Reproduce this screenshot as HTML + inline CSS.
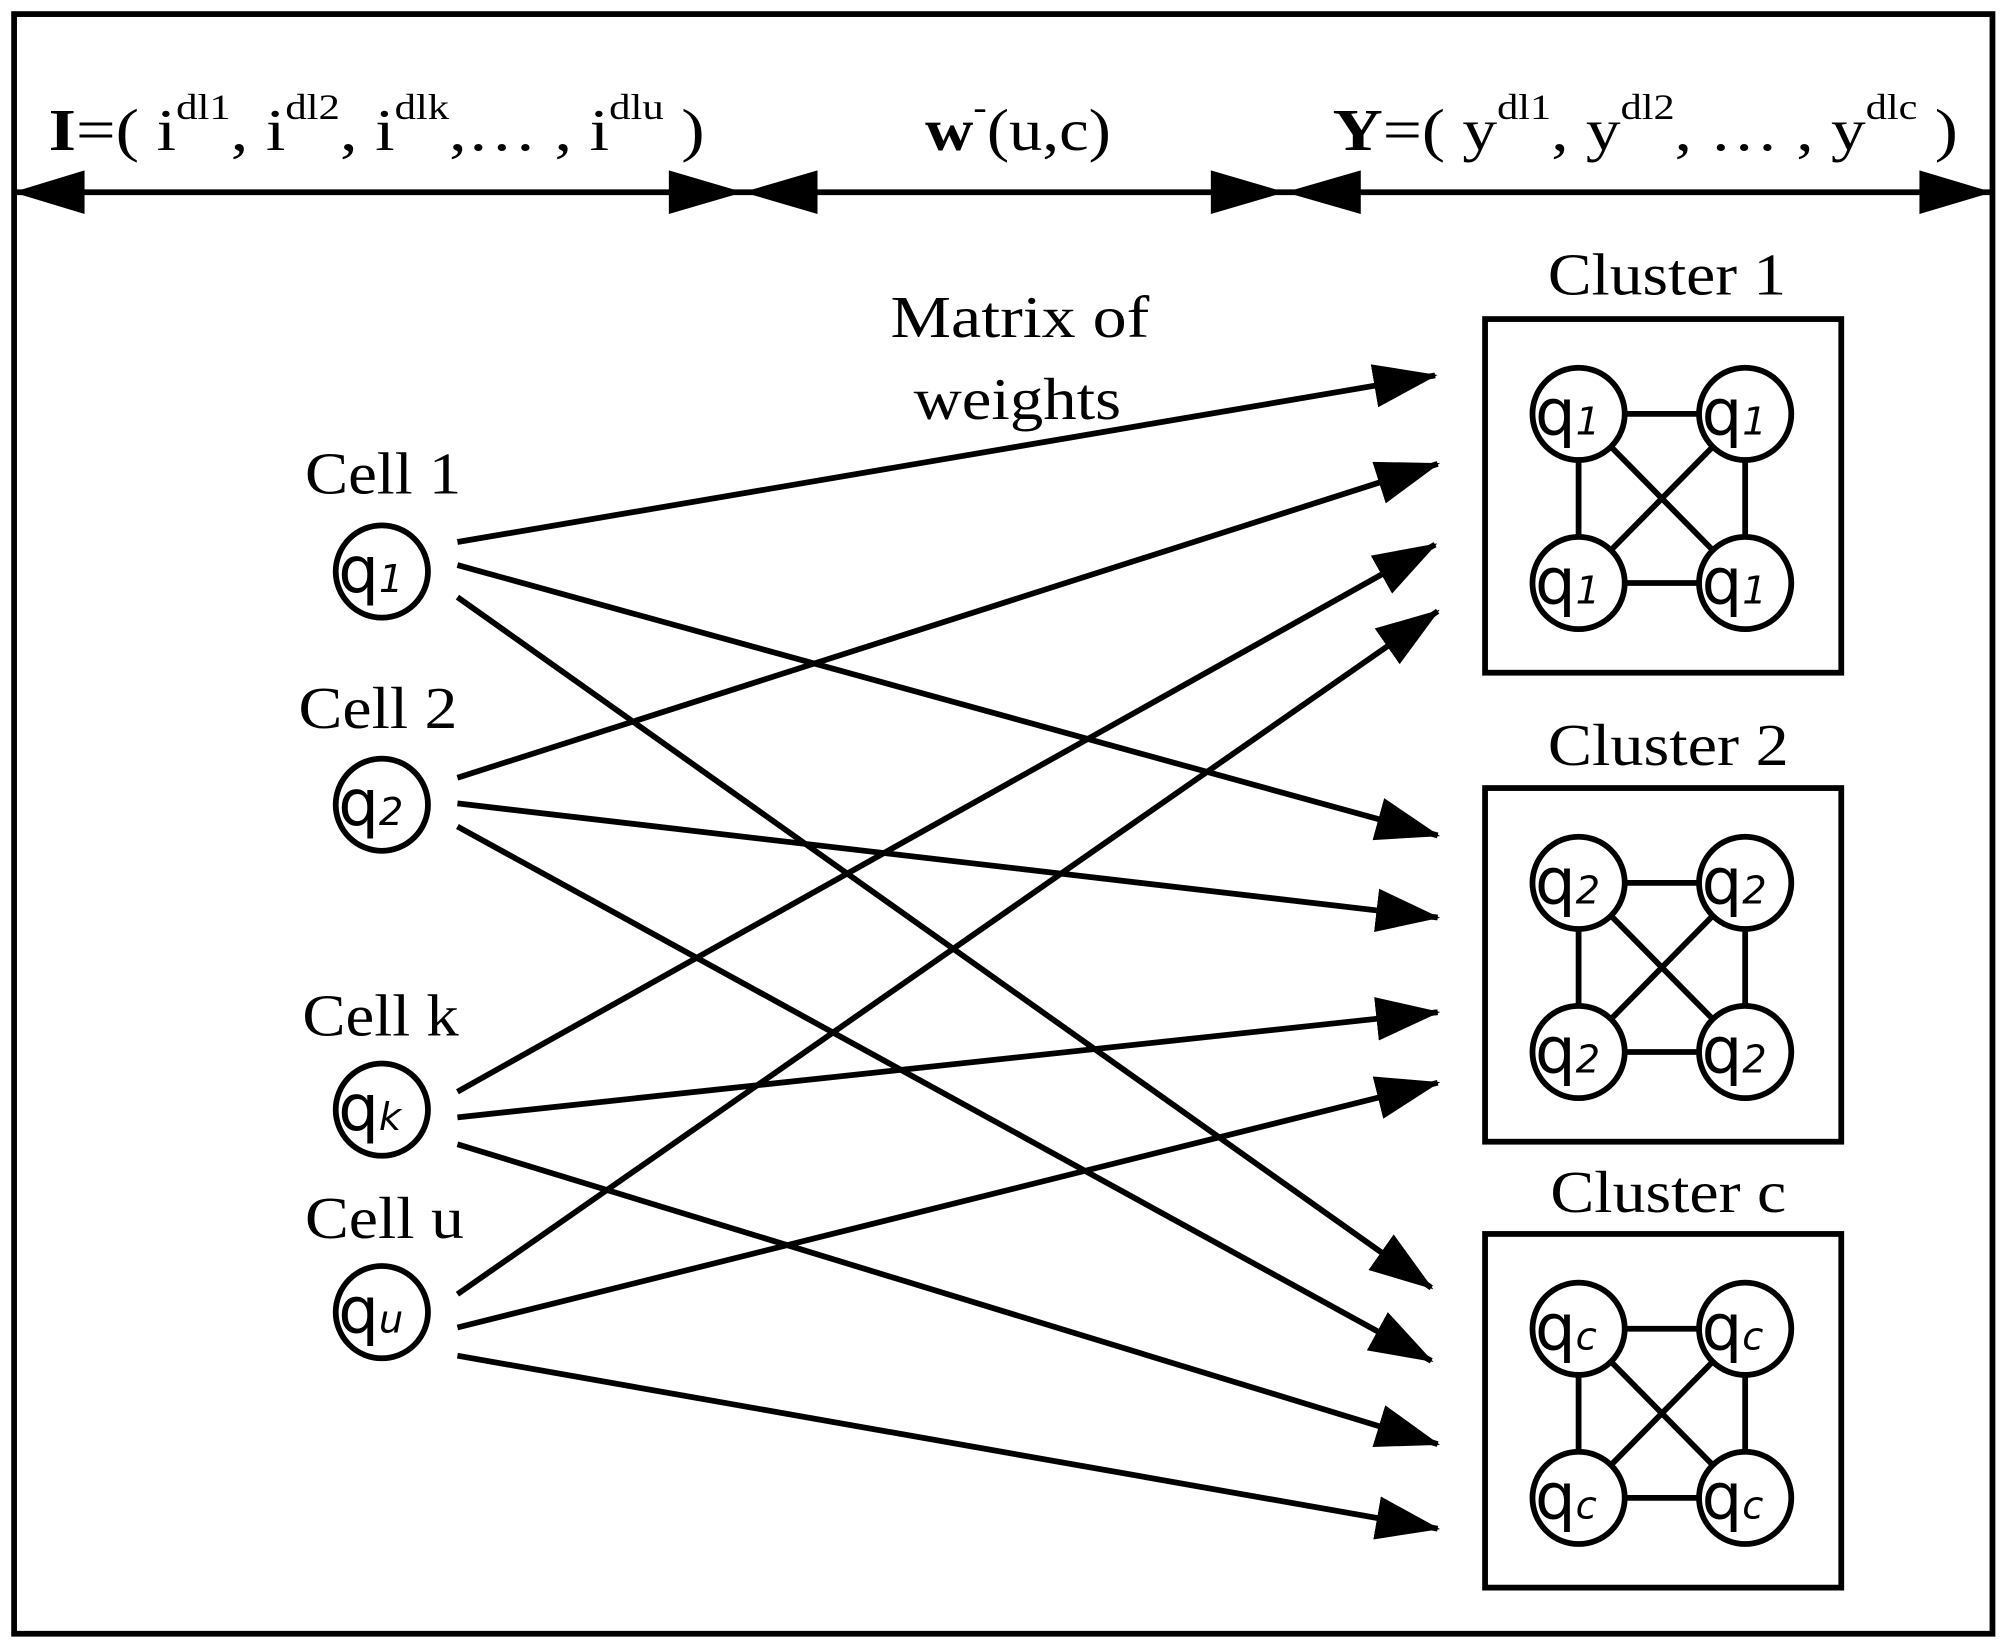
<!DOCTYPE html>
<html><head><meta charset="utf-8"><style>
html,body{margin:0;padding:0;background:#fff;}
svg{display:block;}
.s{font-family:"Liberation Serif",serif;fill:#000;}
.q{font-family:"DejaVu Sans","Liberation Sans",sans-serif;fill:#000;}
</style></head><body>
<svg width="2004" height="1644" viewBox="0 0 1564 1283" preserveAspectRatio="none" xmlns="http://www.w3.org/2000/svg">
<defs>
<marker id="a" markerUnits="userSpaceOnUse" markerWidth="60" markerHeight="40" refX="48" refY="17" orient="auto">
<path d="M0,0 L50,17 L0,34 Z" fill="#000"/>
</marker>
<g id="qn">
</g>
</defs>
<rect x="11" y="11" width="1544" height="1264" fill="none" stroke="#000" stroke-width="4.5"/>
<line x1="12" y1="150" x2="1553" y2="150" stroke="#000" stroke-width="4.5"/>
<g fill="#000">
<path d="M10,150 L66,133 L66,167Z"/>
<path d="M580,150 L522,133 L522,167Z"/>
<path d="M580,150 L638,133 L638,167Z"/>
<path d="M1003,150 L945,133 L945,167Z"/>
<path d="M1003,150 L1062,133 L1062,167Z"/>
<path d="M1555,150 L1498,133 L1498,167Z"/>
</g>
<g class="s" font-size="46">
<text x="38" y="117" textLength="512" lengthAdjust="spacingAndGlyphs"><tspan font-weight="bold">I</tspan>=( i<tspan font-size="28" dy="-24">dl1</tspan><tspan dy="24">, i</tspan><tspan font-size="28" dy="-24">dl2</tspan><tspan dy="24">, i</tspan><tspan font-size="28" dy="-24">dlk</tspan><tspan dy="24">,… , i</tspan><tspan font-size="28" dy="-24">dlu</tspan><tspan dy="24">  )</tspan></text>
<text x="722" y="117" textLength="145" lengthAdjust="spacingAndGlyphs"><tspan font-weight="bold">w</tspan><tspan font-size="28" dy="-24">-</tspan><tspan dy="24">(u,c)</tspan></text>
<text x="1040" y="117" textLength="488" lengthAdjust="spacingAndGlyphs"><tspan font-weight="bold">Y</tspan>=( y<tspan font-size="28" dy="-24">dl1</tspan><tspan dy="24">, y</tspan><tspan font-size="28" dy="-24">dl2</tspan><tspan dy="24">, … , y</tspan><tspan font-size="28" dy="-24">dlc</tspan><tspan dy="24">  )</tspan></text>
<text x="796" y="263" text-anchor="middle" textLength="202" lengthAdjust="spacingAndGlyphs">Matrix of</text>
<text x="794" y="327" text-anchor="middle" textLength="162" lengthAdjust="spacingAndGlyphs">weights</text>
<text x="299" y="385" text-anchor="middle" textLength="122" lengthAdjust="spacingAndGlyphs">Cell 1</text>
<text x="295" y="568" text-anchor="middle" textLength="124" lengthAdjust="spacingAndGlyphs">Cell 2</text>
<text x="297" y="808" text-anchor="middle" textLength="122" lengthAdjust="spacingAndGlyphs">Cell k</text>
<text x="300" y="966" text-anchor="middle" textLength="124" lengthAdjust="spacingAndGlyphs">Cell u</text>
<text x="1301" y="230" text-anchor="middle" textLength="186" lengthAdjust="spacingAndGlyphs">Cluster 1</text>
<text x="1302" y="597" text-anchor="middle" textLength="188" lengthAdjust="spacingAndGlyphs">Cluster 2</text>
<text x="1302" y="946" text-anchor="middle" textLength="184" lengthAdjust="spacingAndGlyphs">Cluster c</text>
</g>
<g stroke="#000" stroke-width="4.5" fill="none" marker-end="url(#a)">
<line x1="357" y1="423" x2="1120" y2="293"/>
<line x1="357" y1="441" x2="1122" y2="652"/>
<line x1="357" y1="466" x2="1117" y2="1005"/>
<line x1="357" y1="607" x2="1122" y2="362"/>
<line x1="357" y1="627" x2="1122" y2="716"/>
<line x1="357" y1="645" x2="1117" y2="1062"/>
<line x1="357" y1="852" x2="1120" y2="425"/>
<line x1="357" y1="872" x2="1122" y2="790"/>
<line x1="357" y1="893" x2="1122" y2="1127"/>
<line x1="357" y1="1010" x2="1122" y2="477"/>
<line x1="357" y1="1036" x2="1122" y2="845"/>
<line x1="357" y1="1058" x2="1122" y2="1193"/>
</g>
<g stroke="#000" stroke-width="4.5" fill="#fff">
<circle cx="298" cy="446" r="36"/>
<circle cx="298" cy="628" r="36"/>
<circle cx="298" cy="866" r="36"/>
<circle cx="298" cy="1024" r="36"/>
</g>
<g class="q" font-size="50">
<text x="264" y="462">q<tspan font-size="30" font-style="italic">1</tspan></text>
<text x="264" y="644">q<tspan font-size="30" font-style="italic">2</tspan></text>
<text x="264" y="882">q<tspan font-size="30" font-style="italic">k</tspan></text>
<text x="264" y="1040">q<tspan font-size="30" font-style="italic">u</tspan></text>
</g>
<g>
<rect x="1159" y="249" width="278" height="276" fill="none" stroke="#000" stroke-width="4.5"/>
<g stroke="#000" stroke-width="4.5">
<line x1="1232" y1="323" x2="1362" y2="323"/><line x1="1232" y1="455" x2="1362" y2="455"/>
<line x1="1232" y1="323" x2="1232" y2="455"/><line x1="1362" y1="323" x2="1362" y2="455"/>
<line x1="1232" y1="323" x2="1362" y2="455"/><line x1="1362" y1="323" x2="1232" y2="455"/>
</g>
<g stroke="#000" stroke-width="4.5" fill="#fff">
<circle cx="1232" cy="323" r="36"/><circle cx="1362" cy="323" r="36"/>
<circle cx="1232" cy="455" r="36"/><circle cx="1362" cy="455" r="36"/>
</g>
<g class="q" font-size="50">
<text x="1198" y="339">q<tspan font-size="30" font-style="italic">1</tspan></text>
<text x="1328" y="339">q<tspan font-size="30" font-style="italic">1</tspan></text>
<text x="1198" y="471">q<tspan font-size="30" font-style="italic">1</tspan></text>
<text x="1328" y="471">q<tspan font-size="30" font-style="italic">1</tspan></text>
</g>
</g>
<g transform="translate(0,366)">
<rect x="1159" y="249" width="278" height="276" fill="none" stroke="#000" stroke-width="4.5"/>
<g stroke="#000" stroke-width="4.5">
<line x1="1232" y1="323" x2="1362" y2="323"/><line x1="1232" y1="455" x2="1362" y2="455"/>
<line x1="1232" y1="323" x2="1232" y2="455"/><line x1="1362" y1="323" x2="1362" y2="455"/>
<line x1="1232" y1="323" x2="1362" y2="455"/><line x1="1362" y1="323" x2="1232" y2="455"/>
</g>
<g stroke="#000" stroke-width="4.5" fill="#fff">
<circle cx="1232" cy="323" r="36"/><circle cx="1362" cy="323" r="36"/>
<circle cx="1232" cy="455" r="36"/><circle cx="1362" cy="455" r="36"/>
</g>
<g class="q" font-size="50">
<text x="1198" y="339">q<tspan font-size="30" font-style="italic">2</tspan></text>
<text x="1328" y="339">q<tspan font-size="30" font-style="italic">2</tspan></text>
<text x="1198" y="471">q<tspan font-size="30" font-style="italic">2</tspan></text>
<text x="1328" y="471">q<tspan font-size="30" font-style="italic">2</tspan></text>
</g>
</g>
<g transform="translate(0,714)">
<rect x="1159" y="249" width="278" height="276" fill="none" stroke="#000" stroke-width="4.5"/>
<g stroke="#000" stroke-width="4.5">
<line x1="1232" y1="323" x2="1362" y2="323"/><line x1="1232" y1="455" x2="1362" y2="455"/>
<line x1="1232" y1="323" x2="1232" y2="455"/><line x1="1362" y1="323" x2="1362" y2="455"/>
<line x1="1232" y1="323" x2="1362" y2="455"/><line x1="1362" y1="323" x2="1232" y2="455"/>
</g>
<g stroke="#000" stroke-width="4.5" fill="#fff">
<circle cx="1232" cy="323" r="36"/><circle cx="1362" cy="323" r="36"/>
<circle cx="1232" cy="455" r="36"/><circle cx="1362" cy="455" r="36"/>
</g>
<g class="q" font-size="50">
<text x="1198" y="339">q<tspan font-size="30" font-style="italic">c</tspan></text>
<text x="1328" y="339">q<tspan font-size="30" font-style="italic">c</tspan></text>
<text x="1198" y="471">q<tspan font-size="30" font-style="italic">c</tspan></text>
<text x="1328" y="471">q<tspan font-size="30" font-style="italic">c</tspan></text>
</g>
</g>
</svg>
</body></html>
